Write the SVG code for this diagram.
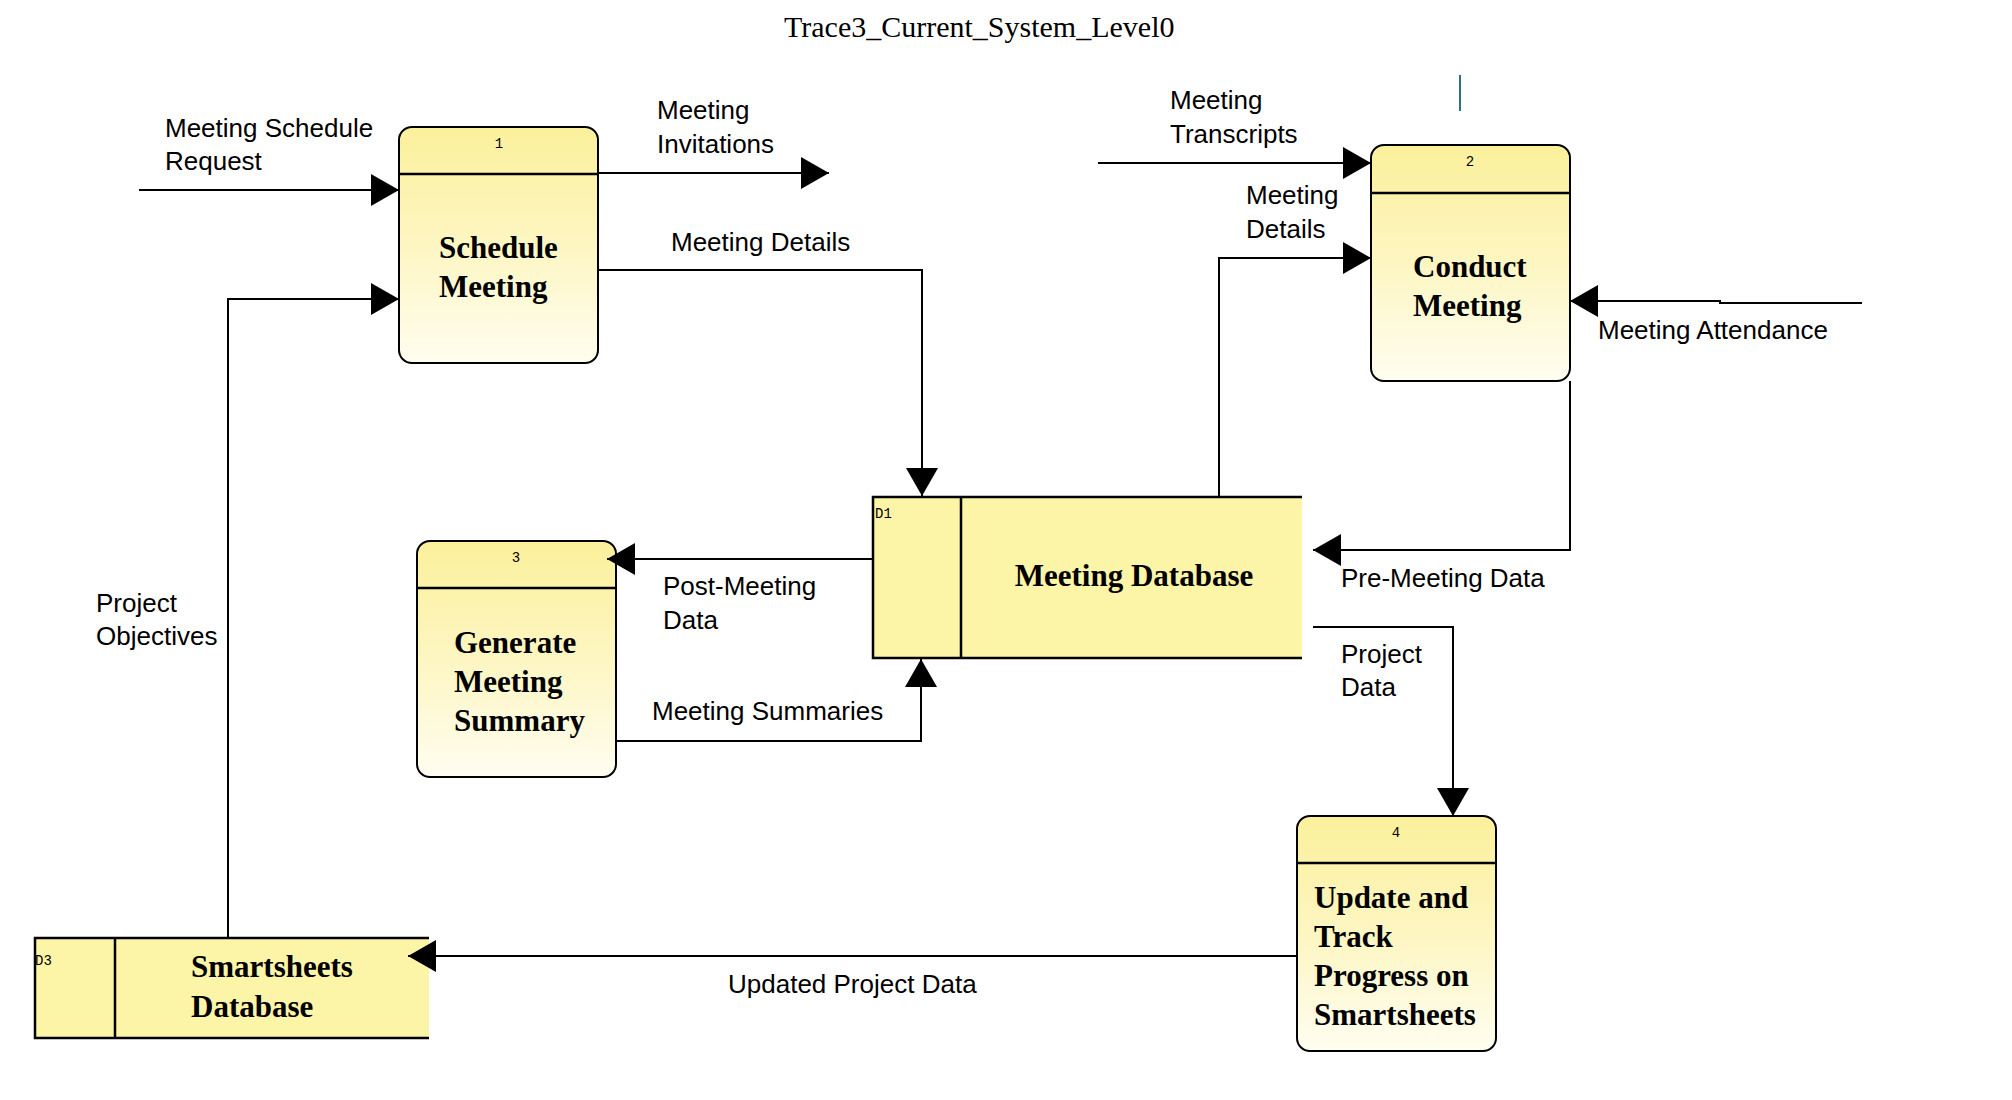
<svg xmlns="http://www.w3.org/2000/svg" width="2012" height="1100" viewBox="0 0 2012 1100">
<style>
.proc{stroke:#000;stroke-width:2;fill:url(#pg)}
.hdr{stroke:#000;stroke-width:2.5}
.store{fill:#fcf4a6;stroke:none}
.sline{stroke:#000;stroke-width:2.5;fill:none}
.num{font-family:"Liberation Mono",monospace;font-size:14px;fill:#000}
.ptxt{font-family:"Liberation Serif",serif;font-weight:bold;font-size:31px;fill:#000}
.lbl{font-family:"Liberation Sans",Arial,sans-serif;font-size:26px;fill:#000}
.con{stroke:#000;stroke-width:2;fill:none}
.arr{marker-end:url(#ah)}
</style>
<defs>
<linearGradient id="pg" x1="0" y1="0" x2="0" y2="1">
<stop offset="0" stop-color="#fbf09b"/>
<stop offset="0.5" stop-color="#fdf6c2"/>
<stop offset="1" stop-color="#fffdf0"/>
</linearGradient>
<marker id="ah" markerUnits="userSpaceOnUse" markerWidth="28" markerHeight="32" refX="28" refY="16" orient="auto">
<path d="M0,0 L28,16 L0,32 z" fill="#000"/>
</marker>
</defs>
<rect width="2012" height="1100" fill="#fff"/>
<text x="784" y="37" font-family="Liberation Serif,serif" font-size="30">Trace3_Current_System_Level0</text>
<line x1="1460" y1="75" x2="1460" y2="111" stroke="#2f6f80" stroke-width="2"/>

<g id="p1">
<rect class="proc" x="399" y="127" width="199" height="236" rx="13"/>
<line class="hdr" x1="399" y1="174" x2="598" y2="174"/>
<text class="num" x="499" y="148" text-anchor="middle">1</text>
<text class="ptxt" x="439" y="258">Schedule</text>
<text class="ptxt" x="439" y="297">Meeting</text>
</g>

<g id="p2">
<rect class="proc" x="1371" y="145" width="199" height="236" rx="13"/>
<line class="hdr" x1="1371" y1="193" x2="1570" y2="193"/>
<text class="num" x="1470" y="166" text-anchor="middle">2</text>
<text class="ptxt" x="1413" y="277">Conduct</text>
<text class="ptxt" x="1413" y="316">Meeting</text>
</g>

<g id="p3">
<rect class="proc" x="417" y="541" width="199" height="236" rx="13"/>
<line class="hdr" x1="417" y1="588" x2="616" y2="588"/>
<text class="num" x="516" y="562" text-anchor="middle">3</text>
<text class="ptxt" x="454" y="653">Generate</text>
<text class="ptxt" x="454" y="692">Meeting</text>
<text class="ptxt" x="454" y="731">Summary</text>
</g>

<g id="p4">
<rect class="proc" x="1297" y="816" width="199" height="235" rx="13"/>
<line class="hdr" x1="1297" y1="863" x2="1496" y2="863"/>
<text class="num" x="1396" y="837" text-anchor="middle">4</text>
<text class="ptxt" x="1314" y="908">Update and</text>
<text class="ptxt" x="1314" y="947">Track</text>
<text class="ptxt" x="1314" y="986">Progress on</text>
<text class="ptxt" x="1314" y="1025">Smartsheets</text>
</g>

<g id="d1">
<rect class="store" x="873" y="497" width="429" height="161"/>
<path class="sline" d="M1302,497 H873 V658 H1302 M961,497 V658"/>
<text class="num" x="875" y="518">D1</text>
<text class="ptxt" x="1134" y="586" text-anchor="middle">Meeting Database</text>
</g>

<g id="d3">
<rect class="store" x="35" y="938" width="394" height="100"/>
<path class="sline" d="M429,938 H35 V1038 H429 M115,938 V1038"/>
<text class="num" x="35" y="965">D3</text>
<text class="ptxt" x="191" y="977">Smartsheets</text>
<text class="ptxt" x="191" y="1017">Database</text>
</g>

<g id="connectors">
<path class="con arr" d="M139,190 H399"/>
<path class="con arr" d="M228,938 V299 H399"/>
<path class="con arr" d="M598,173 H829"/>
<path class="con arr" d="M598,270 H922 V496"/>
<path class="con arr" d="M1098,163 H1371"/>
<path class="con arr" d="M1219,497 V258 H1371"/>
<path class="con arr" d="M1862,303 H1720 V301 H1570"/>
<path class="con arr" d="M1570,381 V550 H1313"/>
<path class="con arr" d="M873,559 H607"/>
<path class="con arr" d="M617,741 H921 V659"/>
<path class="con arr" d="M1313,627 H1453 V816"/>
<path class="con arr" d="M1297,956 H408"/>
<text class="lbl" x="165" y="137">Meeting Schedule</text>
<text class="lbl" x="165" y="170">Request</text>
<text class="lbl" x="657" y="119">Meeting</text>
<text class="lbl" x="657" y="153">Invitations</text>
<text class="lbl" x="671" y="251">Meeting Details</text>
<text class="lbl" x="1170" y="109">Meeting</text>
<text class="lbl" x="1170" y="143">Transcripts</text>
<text class="lbl" x="1246" y="204">Meeting</text>
<text class="lbl" x="1246" y="238">Details</text>
<text class="lbl" x="1598" y="339">Meeting Attendance</text>
<text class="lbl" x="1341" y="587">Pre-Meeting Data</text>
<text class="lbl" x="1341" y="663">Project</text>
<text class="lbl" x="1341" y="696">Data</text>
<text class="lbl" x="663" y="595">Post-Meeting</text>
<text class="lbl" x="663" y="629">Data</text>
<text class="lbl" x="652" y="720">Meeting Summaries</text>
<text class="lbl" x="96" y="612">Project</text>
<text class="lbl" x="96" y="645">Objectives</text>
<text class="lbl" x="728" y="993">Updated Project Data</text>
</g>
</svg>
